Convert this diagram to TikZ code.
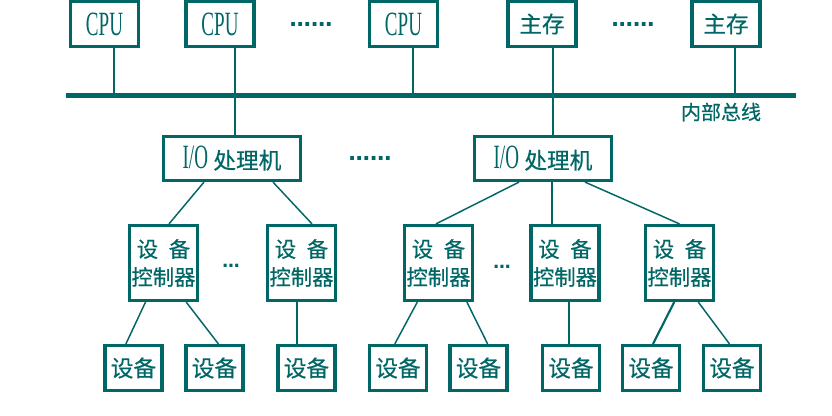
\documentclass[tikz,border=0pt]{standalone}
\usepackage{fontspec}
\usetikzlibrary{calc}
\setmainfont{Liberation Serif}
\newfontfamily\cjk[FakeBold=0.5]{Noto Sans CJK SC}
\newfontfamily\condserif[FakeStretch=0.56]{Liberation Serif}
\newfontfamily\dotfont{DejaVu Sans Bold}
\definecolor{ink}{RGB}{0,102,102}
\newcommand\latinlabel{\condserif\fontsize{25.5pt}{25.5pt}\selectfont}
\begin{document}
\begin{tikzpicture}[x=0.75pt,y=-0.75pt,
  box/.style={draw=ink, line width=2.4pt, inner sep=0pt, text=ink},
  topbox/.style={box, minimum width=51pt, minimum height=33.75pt,
    font=\cjk\fontsize{17pt}{20pt}\selectfont},
  iobox/.style={box, minimum width=102.75pt, minimum height=33pt},
  ctrlbox/.style={box, minimum width=51pt, minimum height=56.25pt, align=center,
    font=\cjk\fontsize{16pt}{21pt}\selectfont},
  devbox/.style={box, minimum width=42.75pt, minimum height=33.75pt,
    font=\cjk\fontsize{17pt}{20pt}\selectfont},
  link/.style={draw=ink, line width=1.1pt},
  stem/.style={draw=ink, line width=1.6pt},
  bus/.style={draw=ink, line width=3.4pt},
  dots/.style={text=ink, inner sep=0pt, font=\dotfont\fontsize{16pt}{16pt}\selectfont},
  smalldots/.style={text=ink, inner sep=0pt, font=\dotfont\fontsize{13pt}{13pt}\selectfont}
]
\useasboundingbox (0,0) rectangle (832,416);

% processors and memories on the internal bus
\node[topbox] (cpu1) at (104.5,24) {\latinlabel CPU};
\node[topbox] (cpu2) at (220,24) {\latinlabel CPU};
\node[dots] (dotsA) at (311,24) {……};
\node[topbox] (cpu3) at (403.5,24) {\latinlabel CPU};
\node[topbox] (mem1) at (542,24) {主存};
\node[dots] (dotsB) at (633,24) {……};
\node[topbox] (mem2) at (726,24) {主存};

\coordinate (busW) at (66,95.5);
\coordinate (busE) at (796,95.5);
\draw[bus] (busW) -- (busE);
\node[text=ink, font=\cjk\fontsize{15pt}{15pt}\selectfont] (buslabel) at (721,112) {内部总线};

% I/O processors
\node[iobox] (io1) at (232,158.5) {{\latinlabel I/O}\hspace{4pt}{\cjk\fontsize{17pt}{20pt}\selectfont 处理机}};
\node[dots] (dotsC) at (370,158) {……};
\node[iobox] (io2) at (543,158.5) {{\latinlabel I/O}\hspace{4pt}{\cjk\fontsize{17pt}{20pt}\selectfont 处理机}};

% device controllers
\node[ctrlbox] (ctrl1) at (163.5,263) {设\hspace{0.5em}备\\控制器};
\node[smalldots] (dotsD) at (231,266) {…};
\node[ctrlbox] (ctrl2) at (301.5,263) {设\hspace{0.5em}备\\控制器};
\node[ctrlbox] (ctrl3) at (438.5,263) {设\hspace{0.5em}备\\控制器};
\node[smalldots] (dotsE) at (502,267) {…};
\node[ctrlbox] (ctrl4) at (565,263) {设\hspace{0.5em}备\\控制器};
\node[ctrlbox] (ctrl5) at (679.5,263) {设\hspace{0.5em}备\\控制器};

% devices
\node[devbox] (dev1) at (133.5,368) {设备};
\node[devbox] (dev2) at (214.5,368) {设备};
\node[devbox] (dev3) at (306.5,368) {设备};
\node[devbox] (dev4) at (398,368) {设备};
\node[devbox] (dev5) at (478.5,368) {设备};
\node[devbox] (dev6) at (571,368) {设备};
\node[devbox] (dev7) at (651,368) {设备};
\node[devbox] (dev8) at (732,368) {设备};

% bus taps
\draw[stem] ($(cpu1.south)+(9.5,0)$) coordinate (t1) -- (t1 |- busW);
\draw[stem] ($(cpu2.south)+(15,0)$) coordinate (t2) -- (t2 |- io1.north);
\draw[stem] ($(cpu3.south)+(9.5,0)$) coordinate (t3) -- (t3 |- busW);
\draw[stem] ($(mem1.south)+(11,0)$) coordinate (t4) -- (t4 |- io2.north);
\draw[stem] ($(mem2.south)+(9,0)$) coordinate (t5) -- (t5 |- busW);

% I/O processors to controllers
\draw[link] ($(io1.south)+(-28,0)$) -- ($(ctrl1.north)+(5.5,0)$);
\draw[link] ($(io1.south)+(41,0)$) -- ($(ctrl2.north)+(10.5,0)$);
\draw[link] ($(io2.south)+(-24,0)$) -- ($(ctrl3.north)+(-2.5,0)$);
\draw[stem] ($(io2.south)+(9,0)$) coordinate (t6) -- (t6 |- ctrl4.north);
\draw[link] ($(io2.south)+(42,0)$) -- (ctrl5.north);

% controllers to devices
\draw[link] ($(ctrl1.south)+(-18,0)$) -- ($(dev1.north)+(-7.6,0)$);
\draw[link] ($(ctrl1.south)+(22.7,0)$) -- ($(dev2.north)+(3.9,0)$);
\draw[stem] ($(ctrl2.south)+(-4.5,0)$) coordinate (t7) -- (t7 |- dev3.north);
\draw[link] ($(ctrl3.south)+(-21.2,0)$) -- ($(dev4.north)+(-3.2,0)$);
\draw[link] ($(ctrl3.south)+(28.4,0)$) -- ($(dev5.north)+(9.1,0)$);
\draw[stem] ($(ctrl4.south)+(4,0)$) coordinate (t8) -- (t8 |- dev6.north);
\draw[stem] ($(ctrl5.south)+(-5.3,0)$) -- ($(dev7.north)+(2,0)$);
\draw[link] ($(ctrl5.south)+(18.8,0)$) -- ($(dev8.north)+(-2.5,0)$);
\end{tikzpicture}
\end{document}
